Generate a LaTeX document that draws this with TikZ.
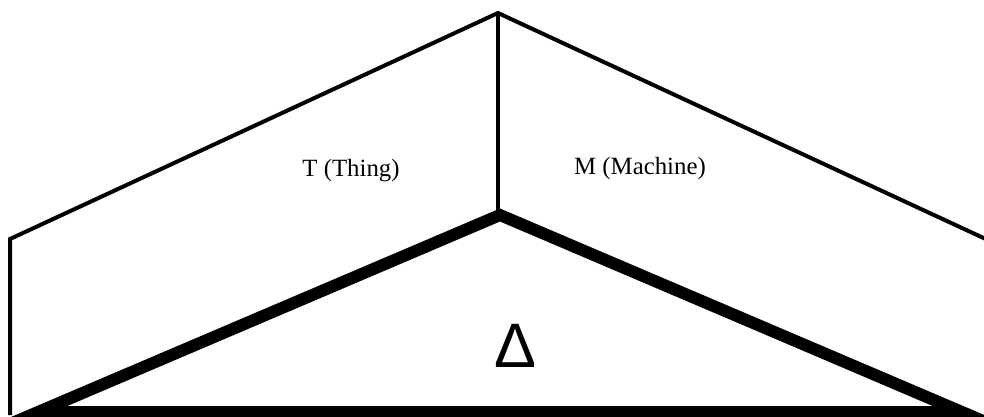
\documentclass[tikz,border=0pt]{standalone}
\usepackage{fontspec}
\setmainfont{Liberation Serif}
\newfontfamily\deltafont{Liberation Sans}
\begin{document}
\begin{tikzpicture}[x=0.5pt,y=-0.5pt,
  thinedge/.style={line width=2pt, line join=miter},
  thickedge/.style={line width=6pt, line join=miter},
  facelabel/.style={font=\fontsize{12.4}{14}\selectfont, inner sep=0pt, anchor=base},
  deltalabel/.style={font=\deltafont\fontsize{31.4}{34}\selectfont, inner sep=0pt, anchor=base}]
\useasboundingbox (0,0) rectangle (984,417);
% outer roof
\coordinate (lb) at (10,415);
\coordinate (lt) at (10,239);
\coordinate (apex) at (498,13);
\coordinate (rt) at (990,241);
\coordinate (ridge) at (498,214);
% inner triangle
\coordinate (tl) at (38,412);
\coordinate (tt) at (500,215);
\coordinate (tr) at (962,412);
\draw[thinedge] (lb) -- (lt) -- (apex) -- (rt);
\draw[thinedge] (apex) -- (ridge);
\draw[thickedge] (tl) -- (tt) -- (tr) -- cycle;
\node[facelabel] (thing) at (351,176) {T (Thing)};
\node[facelabel] (machine) at (640,174) {M (Machine)};
\node[deltalabel] (delta) at (515,367) {Δ};
\end{tikzpicture}
\end{document}
